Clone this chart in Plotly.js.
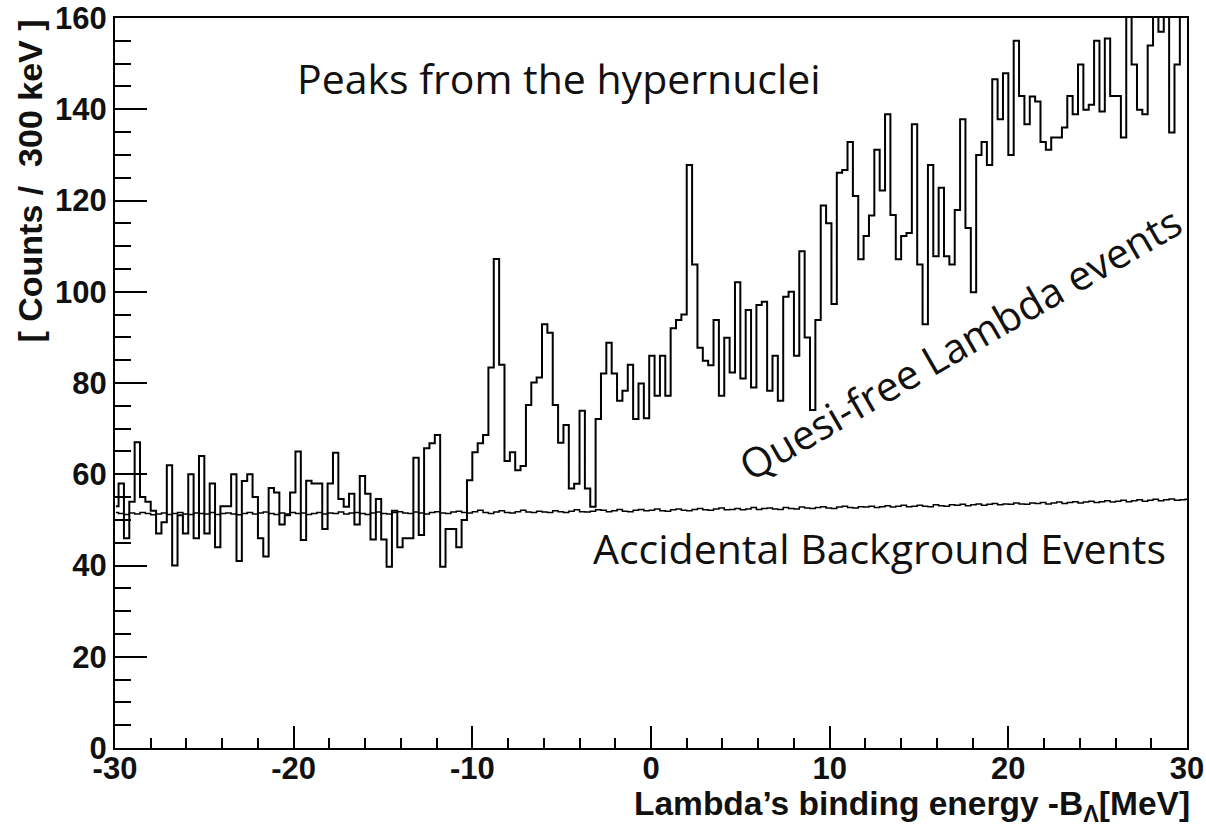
<!DOCTYPE html>
<html>
<head>
<meta charset="utf-8">
<script src="https://cdn.plot.ly/plotly-3.0.1.min.js"></script>
<style>
html,body{margin:0;padding:0;background:#ffffff;}
#chart{width:1206px;height:826px;}
</style>
</head>
<body>
<div id="chart"></div>
<script>
// Histogram binning (MeV): first bin lower edge and bin width (300 keV)
const binLowEdge = -30.1;
const binWidth = 0.3;

// Counts per 300 keV bin (data histogram)
const counts = [
53,58,46,54,67,55,54,52,47,49.5,
62,40,51,47,60,46,64,47,58,44,
53,53,60,41,58.5,60,55,46,42,57,
56,49,51,56,65,45.6,58.6,58,58,48,
58,64.7,54.6,52.9,55.7,49,59.6,55.7,45.7,54.6,
45.7,39.7,52,44,46,46,63.6,46.7,65.7,66.8,
68.6,39.7,48,48,44,50,58.7,64.8,66.8,68.6,
83.4,107.2,84,62.9,64.8,60.9,61.8,75.2,80.1,81.2,
92.9,91,75.2,66.9,70.8,56.9,57.9,73.9,56.9,52.9,
72.1,82.1,88.8,82.1,76.1,78.3,84,72.1,79.9,72.3,
86,77.2,86,77.2,92,93.8,95,127.8,106,87.7,
84.9,83.9,93.8,77.2,89.9,82.3,102.1,81,96,79,
97.1,97.8,78.3,86,76.1,98.9,100,86,108.9,90,
74.1,93.8,118.9,115,97.3,126.1,126.7,132.8,121,107.1,
112.2,116.7,131.1,122.2,138.9,116.8,107.1,112.2,112.9,136.7,
106,92.9,127.8,107.8,122.8,107.8,106,117.9,137.8,114,
99.9,130,132.8,127.8,146.6,137.8,147.9,130,155,142.9,
136.7,142.8,141.7,132.8,131.1,133.8,133.8,136,142.9,138.9,
149.8,139.9,141,155,139.5,155.5,142.9,142.9,133.8,168,
149.8,139.9,138.9,154,165,157,163,134.9,149.8,165,
165
];

// Accidental background histogram (same binning)
const background = [
51.6,51.4,51.2,51.5,51.3,51.6,51.4,51.1,51.3,51.5,
51.2,51.4,51.6,51.3,51.2,51.5,51.4,51.3,51.6,51.2,
51.4,51.5,51.3,51.1,51.4,51.6,51.3,51.5,51.7,51.4,
51.2,51.5,51.3,51.6,51.4,51.5,51.2,51.4,51.6,51.3,
51.5,51.4,51.7,51.3,51.5,51.6,51.4,51.2,51.5,51.7,
51.4,51.3,51.6,51.8,51.5,51.4,51.7,51.5,51.3,51.6,
51.8,51.5,51.4,51.7,51.9,51.6,51.5,51.8,52.1,51.6,
51.4,51.7,52.0,51.6,51.5,51.8,52.1,51.7,51.6,51.9,
51.7,51.6,52.0,51.8,51.6,51.9,52.2,51.8,51.7,51.9,
52.2,52.1,51.8,52.0,52.3,51.9,51.8,52.1,52.3,52.0,
52.1,52.4,52.0,51.9,52.2,52.4,52.1,52.0,52.3,52.5,
52.2,52.1,52.4,52.6,52.2,52.3,52.5,52.2,52.4,52.7,
52.3,52.5,52.6,52.4,52.3,52.7,52.5,52.4,52.8,52.6,
52.5,52.7,52.9,52.6,52.5,52.8,53.0,52.7,52.6,52.9,
52.8,53.0,52.7,52.9,53.1,52.8,53.0,53.2,52.9,53.0,
53.2,53.0,52.9,53.3,53.1,53.0,53.3,53.2,53.4,53.1,
53.3,53.5,53.2,53.4,53.6,53.3,53.5,53.4,53.7,53.5,
53.4,53.7,53.6,53.8,53.5,53.7,53.9,53.6,53.8,54.0,
53.7,53.9,54.1,53.8,54.0,54.2,53.9,54.1,54.3,54.0,
54.2,54.4,54.1,54.3,54.5,54.2,54.4,54.6,54.3,54.4,
54.5
];

const xTickValues = [-30,-20,-10,0,10,20,30];
const xTickLabels = ["-30","-20","-10","0","10","20","30"];
const yTickValues = [0,20,40,60,80,100,120,140,160];
const yTickLabels = ["0","20","40","60","80","100","120","140","160"];

const xTitle = "Lambda\u2019s binding energy -B<sub>\u039B</sub>[MeV]";
const yTitle = "[ Counts /  300 keV ]";
const labelPeaks = "Peaks from the hypernuclei";
const labelQF = "Quesi-free Lambda events";
const labelBG = "Accidental Background Events";

const centersFor = arr => arr.map((_, i) => binLowEdge + binWidth * (i + 0.5));

const traces = [
  {
    x: centersFor(background), y: background, type: 'scatter', mode: 'lines',
    line: {shape: 'hvh', color: '#000000', width: 1.5}, hoverinfo: 'skip'
  },
  {
    x: centersFor(counts), y: counts, type: 'scatter', mode: 'lines',
    line: {shape: 'hvh', color: '#000000', width: 2}, hoverinfo: 'skip'
  }
];

const tickFont = {family: 'Liberation Sans, Arial, sans-serif', size: 31, color: '#111111', weight: 'bold'};
const titleFont = {family: 'Liberation Sans, Arial, sans-serif', size: 34, color: '#111111', weight: 'bold'};
const xTitleFont = {family: 'Liberation Sans, Arial, sans-serif', size: 33.5, color: '#111111', weight: 'bold'};
const textFont = {family: 'Open Sans, Noto Sans, sans-serif', size: 41, color: '#111111'};

const layout = {
  width: 1206, height: 826,
  margin: {l: 115, r: 19, t: 18, b: 78, pad: 0},
  paper_bgcolor: '#ffffff', plot_bgcolor: '#ffffff',
  showlegend: false,
  xaxis: {
    range: [-30, 30], tickmode: 'array', tickvals: xTickValues, ticktext: xTickLabels,
    ticks: 'inside', ticklen: 22, tickwidth: 2, tickcolor: '#000000',
    showline: true, linewidth: 2, linecolor: '#000000', mirror: true,
    showgrid: false, zeroline: false, tickfont: tickFont,
    ticklabeloverflow: 'allow', ticklabelstandoff: -8,
    minor: {tickmode: 'linear', tick0: 0, dtick: 2, ticks: 'inside', ticklen: 10, tickwidth: 2, tickcolor: '#000000', showgrid: false}
  },
  yaxis: {
    range: [0, 160], tickmode: 'array', tickvals: yTickValues, ticktext: yTickLabels,
    ticks: 'inside', ticklen: 32, tickwidth: 2, tickcolor: '#000000',
    showline: true, linewidth: 2, linecolor: '#000000', mirror: true,
    showgrid: false, zeroline: false, tickfont: tickFont,
    ticklabeloverflow: 'allow',
    minor: {tickmode: 'linear', tick0: 0, dtick: 5, ticks: 'inside', ticklen: 16, tickwidth: 2, tickcolor: '#000000', showgrid: false}
  },
  annotations: [
    {text: labelPeaks, xref: 'paper', yref: 'paper', x: 0.4142, y: 0.918, xanchor: 'center', yanchor: 'middle', showarrow: false, font: textFont},
    {text: labelQF, xref: 'paper', yref: 'paper', x: 0.788, y: 0.5548, xanchor: 'center', yanchor: 'middle', showarrow: false, textangle: -30, font: textFont},
    {text: labelBG, xref: 'paper', yref: 'paper', x: 0.7127, y: 0.274, xanchor: 'center', yanchor: 'middle', showarrow: false, font: textFont},
    {text: xTitle, xref: 'paper', yref: 'paper', x: 1.0047, y: -0.0795, xanchor: 'right', yanchor: 'middle', showarrow: false, font: xTitleFont},
    {text: yTitle, xref: 'paper', yref: 'paper', x: -0.0802, y: 1.0, xanchor: 'center', yanchor: 'top', showarrow: false, textangle: -90, font: titleFont}
  ]
};

Plotly.newPlot('chart', traces, layout, {staticPlot: true, displayModeBar: false});
</script>
</body>
</html>
